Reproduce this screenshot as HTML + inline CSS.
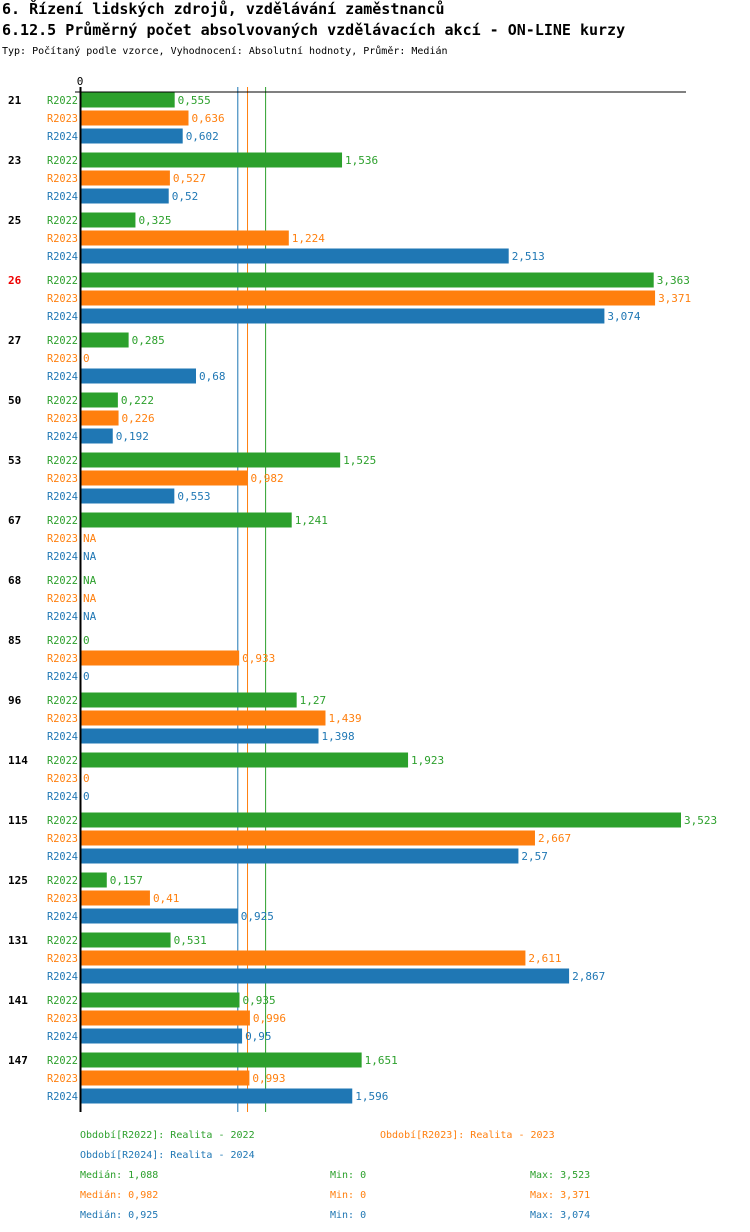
<!DOCTYPE html>
<html><head><meta charset="utf-8"><style>
body{margin:0;background:#fff;width:750px;height:1232px;overflow:hidden}
svg{display:block;font-family:"DejaVu Sans Mono","Liberation Mono",monospace}
</style></head><body>
<svg id="c" width="750" height="1232">
<text x="2" y="14" font-size="15" font-weight="bold">6. Řízení lidských zdrojů, vzdělávání zaměstnanců</text>
<text x="2" y="35" font-size="15" font-weight="bold">6.12.5 Průměrný počet absolvovaných vzdělávacích akcí - ON-LINE kurzy</text>
<text x="2" y="54" font-size="10">Typ: Počítaný podle vzorce, Vyhodnocení: Absolutní hodnoty, Průměr: Medián</text>
<g id="plot"></g>
</svg>
<script>
const categories=["21","23","25","26","27","50","53","67","68","85","96","114","115","125","131","141","147"];
const series=["R2022","R2023","R2024"];
const v2022=[0.555,1.536,0.325,3.363,0.285,0.222,1.525,1.241,null,0,1.27,1.923,3.523,0.157,0.531,0.935,1.651];
const v2023=[0.636,0.527,1.224,3.371,0,0.226,0.982,null,null,0.933,1.439,0,2.667,0.41,2.611,0.996,0.993];
const v2024=[0.602,0.52,2.513,3.074,0.68,0.192,0.553,null,null,0,1.398,0,2.57,0.925,2.867,0.95,1.596];
const medians=[1.088,0.982,0.925];
const mins=[0,0,0];
const maxs=[3.523,3.371,3.074];
const colors=["#2ca02c","#ff7f0e","#1f77b4"];
const vals=[v2022,v2023,v2024];
const NS="http://www.w3.org/2000/svg";
const g=document.getElementById('plot');
const x0=80, sc=601/3.523;
const xs=v=>x0+v*sc;
const rowY=(ci,si)=>100+ci*60+si*18;
function el(t,a,txt){const e=document.createElementNS(NS,t);for(const k in a)e.setAttribute(k,a[k]);if(txt!==undefined)e.textContent=txt;g.appendChild(e);return e;}
const fmt=v=>String(v).replace('.',',');
let e;
medians.forEach((m,i)=>{
  e=el('line',{x1:xs(m),y1:87,x2:xs(m),y2:1112,stroke:colors[i],'stroke-width':1});
  
  
});
e=el('line',{x1:75,y1:92,x2:686,y2:92,stroke:'#000','stroke-width':1});


e=el('text',{x:80,y:85,'font-size':11,'text-anchor':'middle'},'0');


categories.forEach((c,ci)=>{
  e=el('text',{x:8,y:rowY(ci,0)+4,'font-size':11,'font-weight':'bold',fill:c==='26'?'#e00':'#000'},c);
  
  
  series.forEach((s,si)=>{
    const y=rowY(ci,si), v=vals[si][ci], col=colors[si];
    e=el('text',{x:78,y:y+4,'font-size':10.3,'text-anchor':'end',fill:col},s);
    
    
    if(v!==null&&v>0){
      e=el('rect',{x:x0,y:y-7.5,width:xs(v)-x0,height:15,fill:col});
      
      
    }
    e=el('text',{x:(v?xs(v):x0)+3,y:y+4,'font-size':11,fill:col},v===null?'NA':fmt(v));
    
    
  });
});
e=el('line',{x1:80.5,y1:87,x2:80.5,y2:1112,stroke:'#000','stroke-width':2});


const leg=[[80,1138,"Období[R2022]: Realita - 2022",0],[380,1138,"Období[R2023]: Realita - 2023",1],[80,1158,"Období[R2024]: Realita - 2024",2]];
leg.forEach(l=>{e=el('text',{x:l[0],y:l[1],'font-size':10,fill:colors[l[3]]},l[2]);

});
series.forEach((s,i)=>{
  const y=1178+i*20;
  e=el('text',{x:80,y:y,'font-size':10,fill:colors[i]},'Medián: '+fmt(medians[i]));
  
  
  e=el('text',{x:330,y:y,'font-size':10,fill:colors[i]},'Min: '+fmt(mins[i]));
  
  
  e=el('text',{x:530,y:y,'font-size':10,fill:colors[i]},'Max: '+fmt(maxs[i]));
  
  
});
</script>
</body></html>
